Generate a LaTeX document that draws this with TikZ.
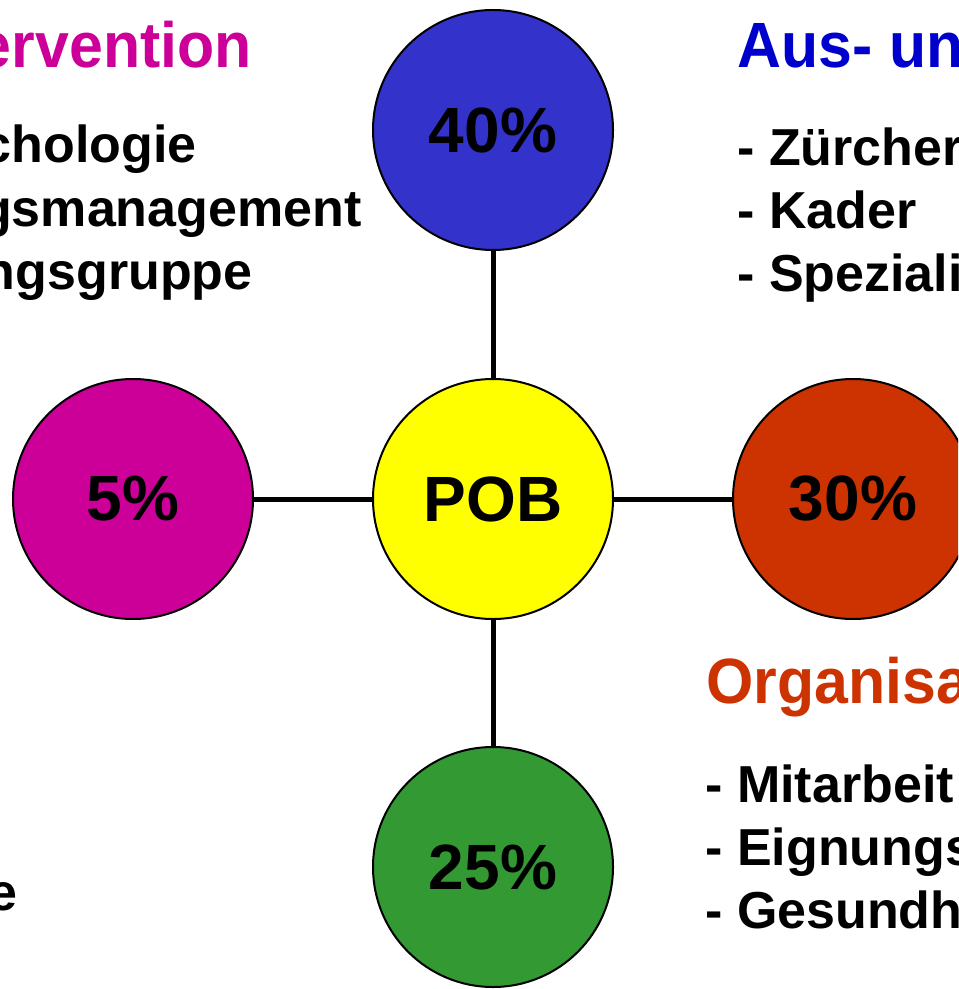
\documentclass[tikz,border=0pt]{standalone}
\usepackage{fontspec}
\setmainfont{Liberation Sans}

\definecolor{pobyellow}{HTML}{FFFF00}
\definecolor{pobblue}{HTML}{3333CC}
\definecolor{pobmagenta}{HTML}{CC0099}
\definecolor{pobred}{HTML}{CC3300}
\definecolor{pobgreen}{HTML}{339933}
\definecolor{titleblue}{HTML}{0000CC}

\newcommand{\narrowtitle}[1]{\scalebox{0.95}[1]{#1}}

\begin{document}
\begin{tikzpicture}[
					x = 0.5pt,
					y = -0.5pt,
					blob/.style = {
						circle,
						draw,
						line width = 1pt,
						minimum size = 120pt,
						inner sep = 0pt,
						font = \fontsize{32}{32}\selectfont\bfseries,
					},
					heading/.style = {
						inner sep = 0pt,
						font = \fontsize{32}{32}\selectfont\bfseries,
					},
					entry/.style = {
						inner sep = 0pt,
						font = \fontsize{26}{26}\selectfont\bfseries,
					},
			]
				\clip (0, 0) rectangle (958, 989);

				\draw (493, 499) node (pob) [blob, fill = pobyellow] {POB};
				\draw (493, 130) node (n40) [blob, fill = pobblue] {40\%};
				\draw (133, 499) node (n5) [blob, fill = pobmagenta] {5\%};
				\draw (853, 499) node (n30) [blob, fill = pobred] {30\%};
				\draw (493, 867) node (n25) [blob, fill = pobgreen] {25\%};

				\draw [line width = 2.5pt] (pob) -- (n40);
				\draw [line width = 2.5pt] (pob) -- (n5);
				\draw [line width = 2.5pt] (pob) -- (n30);
				\draw [line width = 2.5pt] (pob) -- (n25);

				% left texts
				\draw (252, 68) node (t5) [heading, anchor = base east, text = pobmagenta] {\narrowtitle{ervention}};
				\draw (197, 163) node (t5a) [entry, anchor = base east] {chologie};
				\draw (362, 227) node (t5b) [entry, anchor = base east] {gsmanagement};
				\draw (253, 290) node (t5c) [entry, anchor = base east] {ngsgruppe};
				\draw (18, 910) node (t25) [entry, anchor = base east] {e};

				% right texts
				\draw (737, 68) node (t40) [heading, anchor = base west, text = titleblue] {\narrowtitle{Aus- un}};
				\draw (737, 166) node (t40a) [entry, anchor = base west] {- Zürcher};
				\draw (737, 229) node (t40b) [entry, anchor = base west] {- Kader};
				\draw (737, 292) node (t40c) [entry, anchor = base west] {- Speziali};
				\draw (706, 703) node (t30) [heading, anchor = base west, text = pobred] {\narrowtitle{Organisa}};
				\draw (705, 802) node (t30a) [entry, anchor = base west] {- Mitarbeit};
				\draw (705, 865) node (t30b) [entry, anchor = base west] {- Eignungs};
				\draw (705, 928) node (t30c) [entry, anchor = base west] {- Gesundh};
			\end{tikzpicture}
\end{document}
